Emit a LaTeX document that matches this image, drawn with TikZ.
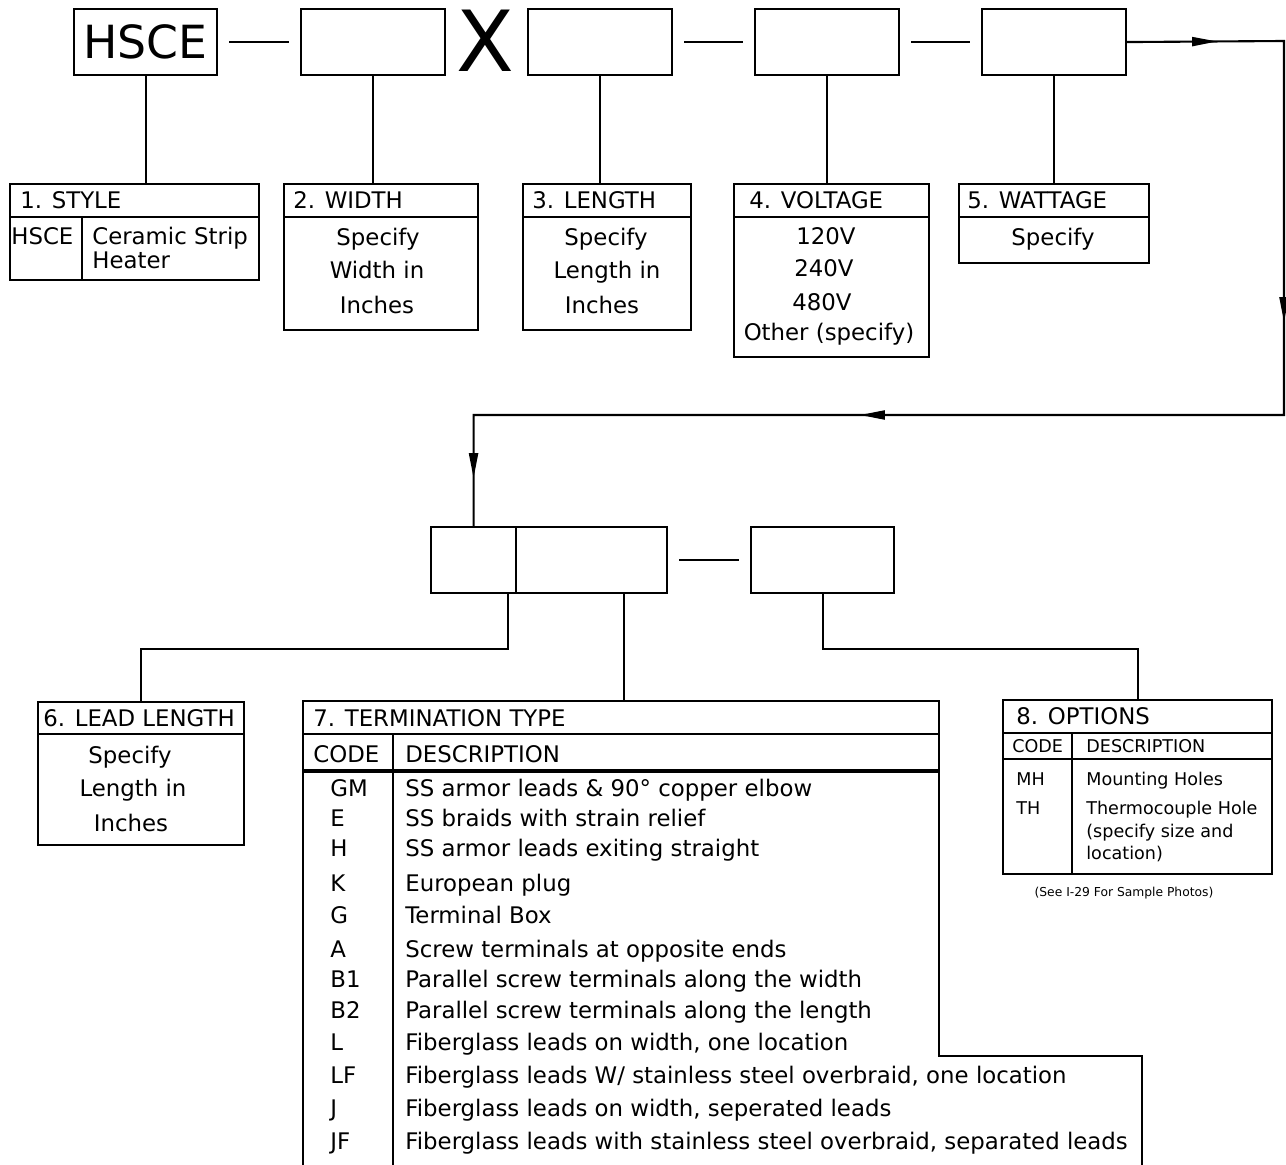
\documentclass[tikz,border=0pt]{standalone}
\usepackage{fontspec}
\setmainfont{DejaVu Sans}
\usetikzlibrary{arrows.meta,decorations.markings}

\tikzset{
  pbox/.style 2 args={draw, line width=1.2pt, inner sep=0pt, anchor=north west,
    minimum width=#1*0.2mm, minimum height=#2*0.2mm},
  lbl/.style={inner sep=0pt, anchor=mid west, yshift=-0.8mm, font=\fontsize{13}{15}\selectfont},
  ctr/.style={inner sep=0pt, anchor=mid, yshift=-0.8mm, font=\fontsize{13}{15}\selectfont},
  small/.style={inner sep=0pt, anchor=mid west, yshift=-0.6mm, font=\fontsize{10}{12}\selectfont},
  wire/.style={line width=1.2pt},
  gap/.style={line width=1.2pt, shorten <=2.2mm, shorten >=2.2mm},
  flowtip/.tip={Triangle[length=5mm,width=1.8mm]},
  flow/.style={line width=1.2pt, postaction={decorate}, decoration={markings,
    mark=at position 18mm with {\arrow{flowtip}},
    mark=at position 87.6mm with {\arrow{flowtip}},
    mark=at position 191mm with {\arrow{flowtip}},
    mark=at position 280.9mm with {\arrow{flowtip}}}}
}

\begin{document}
\begin{tikzpicture}[x=0.2mm, y=-0.2mm]
			%%%%% START %%%%%
			\useasboundingbox (0,0) rectangle (1286,1165);
			
			% part number boxes
			\node[pbox={143}{66}, font=\fontsize{26}{30}\selectfont] (hsce) at (73,8) {HSCE};
			\node[pbox={144}{66}] (w) at (300,8) {};
			\node[inner sep=0pt, font=\fontsize{48}{50}\selectfont] (times) at (485,41) {X};
			\node[pbox={144}{66}] (l) at (527,8) {};
			\node[pbox={144}{66}] (v) at (754,8) {};
			\node[pbox={144}{66}] (p) at (981,8) {};
			
			\draw[gap] (hsce) -- (w);
			\draw[gap] (l) -- (v);
			\draw[gap] (v) -- (p);
			
			% 1. style
			\node[pbox={249}{96}] (style) at (9,183) {};
			\draw[wire] (9,217) -- (258,217);
			\draw[wire] (82,217) -- (82,279);
			\node[lbl] (stylet) at (20,200) {1. STYLE};
			\node[lbl] (stylec) at (11,236) {HSCE};
			\node[lbl] (styled1) at (92,236) {Ceramic Strip};
			\node[lbl] (styled2) at (92,260) {Heater};
			
			% 2. width
			\node[pbox={194}{146}] (width) at (283,183) {};
			\draw[wire] (283,217) -- (477,217);
			\node[lbl] (widtht) at (293,200) {2. WIDTH};
			\node[ctr] (width1) at (378,237) {Specify};
			\node[ctr] (width2) at (377,270) {Width in};
			\node[ctr] (width3) at (377,305) {Inches};
			
			% 3. length
			\node[pbox={168}{146}] (length) at (522,183) {};
			\draw[wire] (522,217) -- (690,217);
			\node[lbl] (lengtht) at (532,200) {3. LENGTH};
			\node[ctr] (length1) at (606,237) {Specify};
			\node[ctr] (length2) at (607,270) {Length in};
			\node[ctr] (length3) at (602,305) {Inches};
			
			% 4. voltage
			\node[pbox={195}{173}] (voltage) at (733,183) {};
			\draw[wire] (733,217) -- (928,217);
			\node[lbl] (voltaget) at (749,200) {4. VOLTAGE};
			\node[ctr] (volt1) at (826,236) {120V};
			\node[ctr] (volt2) at (824,268) {240V};
			\node[ctr] (volt3) at (822,302) {480V};
			\node[ctr] (volt4) at (829,332) {Other (specify)};
			
			% 5. wattage
			\node[pbox={190}{79}] (wattage) at (958,183) {};
			\draw[wire] (958,217) -- (1148,217);
			\node[lbl] (wattaget) at (967,200) {5. WATTAGE};
			\node[ctr] (watt1) at (1053,237) {Specify};
			
			\draw[wire] (hsce.south) -- (hsce.south |- style.north);
			\draw[wire] (w.south) -- (w.south |- width.north);
			\draw[wire] (l.south) -- (l.south |- length.north);
			\draw[wire] (v.south) -- (v.south |- voltage.north);
			\draw[wire] (p.south) -- (p.south |- wattage.north);
			
			% second row of boxes
			\node[pbox={85}{66}] (b6) at (430,526) {};
			\node[pbox={151}{66}] (b7) at (515,526) {};
			\node[pbox={143}{66}] (b8) at (750,526) {};
			\draw[gap] (b7) -- (b8);
			
			\coordinate (turnA) at (1284,41);
			\coordinate (turnB) at (1284,415);
			\draw[flow] (p.east) -- (turnA) -- (turnB) -| (b6.north);
			
			% 6. lead length
			\node[pbox={206}{143}] (lead) at (37,701) {};
			\draw[wire] (37,734) -- (243,734);
			\node[lbl] (leadt) at (43,718) {6. LEAD LENGTH};
			\node[ctr] (lead1) at (130,755) {Specify};
			\node[ctr] (lead2) at (133,788) {Length in};
			\node[ctr] (lead3) at (131,823) {Inches};
			
			% 7. termination type
			\coordinate (termtop) at (624,701);
			\draw[wire] (303,1165) -- (303,701) -- (939,701) -- (939,1056) -- (1142,1056) -- (1142,1165);
			\draw[wire] (303,734) -- (939,734);
			\draw[line width=1.8pt] (303,771) -- (939,771);
			\draw[wire] (393,734) -- (393,1165);
			\node[lbl] (termt) at (313,718) {7. TERMINATION TYPE};
			\node[lbl] (termc) at (313,754) {CODE};
			\node[lbl] (termd) at (405,754) {DESCRIPTION};
			\foreach \c/\d/\y [count=\i] in {
				GM/{SS armor leads \& 90° copper elbow}/788,
				E/{SS braids with strain relief}/818,
				H/{SS armor leads exiting straight}/848,
				K/{European plug}/883,
				G/{Terminal Box}/915,
				A/{Screw terminals at opposite ends}/949,
				B1/{Parallel screw terminals along the width}/979,
				B2/{Parallel screw terminals along the length}/1010,
				L/{Fiberglass leads on width, one location}/1042,
				LF/{Fiberglass leads W/ stainless steel overbraid, one location}/1075,
				J/{Fiberglass leads on width, seperated leads}/1108,
				JF/{Fiberglass leads with stainless steel overbraid, separated leads}/1141}
			{
				\node[lbl] (tc\i) at (330,\y) {\c};
				\node[lbl] (td\i) at (405,\y) {\d};
			}
			
			% 8. options
			\node[pbox={269}{174}] (opt) at (1002,699) {};
			\draw[wire] (1002,733) -- (1271,733);
			\draw[wire] (1002,759) -- (1271,759);
			\draw[wire] (1072,733) -- (1072,873);
			\node[lbl] (optt) at (1016,716) {8. OPTIONS};
			\node[small] (optc) at (1012,745) {CODE};
			\node[small] (optd) at (1086,745) {DESCRIPTION};
			\node[small] (optc1) at (1016,778) {MH};
			\node[small] (optd1) at (1086,778) {Mounting Holes};
			\node[small] (optc2) at (1016,807) {TH};
			\node[small] (optd2) at (1086,807) {Thermocouple Hole};
			\node[small] (optd3) at (1086,830) {(specify size and};
			\node[small] (optd4) at (1086,852) {location)};
			\node[inner sep=0pt, font=\fontsize{7}{8}\selectfont] (photos) at (1124,893) {(See I-29 For Sample Photos)};
			
			\draw[wire] ([xshift=-1.8mm]b6.south east) -- ++(0,55) -| (lead.north);
			\draw[wire] (b7.south -| termtop) -- (termtop);
			\draw[wire] (b8.south) -- ++(0,55) -| (opt.north);
			
			%%%%% END %%%%%
\end{tikzpicture}
\end{document}
